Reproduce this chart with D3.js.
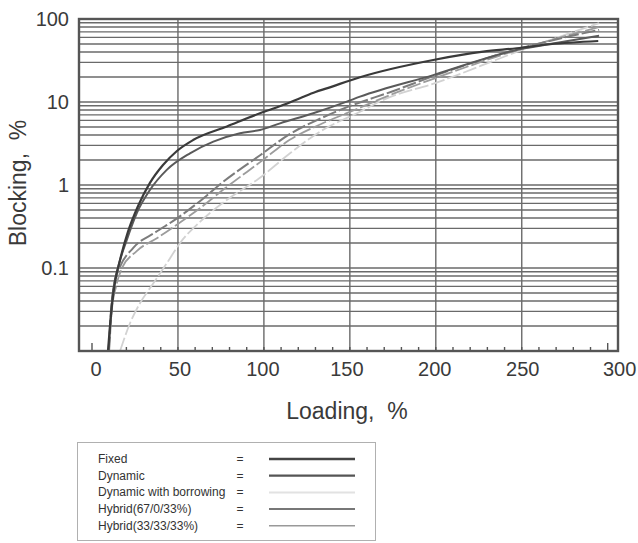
<!DOCTYPE html>
<html>
<head>
<meta charset="utf-8">
<script src="https://cdn.jsdelivr.net/npm/d3@7"></script>
<style>
  html, body { margin: 0; padding: 0; background: #fff; }
  svg { display: block; font-family: "Liberation Sans", Arial, sans-serif; }
</style>
</head>
<body>
<svg id="chart" width="638" height="543"></svg>
<script>
// ---- data (Loading %, Blocking %) ----
const seriesNames = ["Fixed", "Dynamic", "Dynamic with borrowing", "Hybrid(67/0/33%)", "Hybrid(33/33/33%)"];

const fixedX = [9.3, 10.5, 11.6, 13.4, 16.3, 20.9, 26.8, 33.7, 41.3, 49.4, 58.8, 78.5, 97.7, 110, 121, 130, 136.5, 155.9, 198.5, 227.6, 247, 266.4, 294.5];
const fixedY = [0.01, 0.0206, 0.0358, 0.0678, 0.125, 0.272, 0.558, 1.06, 1.74, 2.57, 3.48, 5.07, 7.31, 9.0, 11.1, 13.2, 14.6, 19.9, 32.1, 40.4, 44.4, 49.6, 54.3];

const dynamicX = [9.6, 10.6, 12.4, 15.3, 20.2, 26, 33.7, 43.5, 57, 70.6, 86.1, 97.7, 109.4, 128.7, 148.2, 155.9, 198.5, 247, 266.4, 295];
const dynamicY = [0.01, 0.02, 0.054, 0.104, 0.217, 0.456, 0.871, 1.52, 2.41, 3.33, 4.2, 4.6, 5.53, 7.31, 10.1, 11.6, 21.1, 42.4, 50, 63];

const borrowX = [16.3, 22.1, 27.9, 35.7, 43.5, 51.2, 62.8, 78.4, 97.7, 115.2, 132.6, 155.9, 169.4, 200, 247, 295];
const borrowY = [0.01, 0.0216, 0.0376, 0.0655, 0.114, 0.2, 0.36, 0.66, 1.22, 2.41, 4.39, 7.64, 10.6, 17, 40, 89];

const hyb67X = [9.8, 11, 13, 16, 24, 37, 49, 62, 76, 98, 115, 132, 148, 175, 200, 247, 295];
const hyb67Y = [0.01, 0.03, 0.065, 0.1, 0.175, 0.27, 0.39, 0.62, 1.08, 2.3, 4.1, 6.2, 8.6, 13.5, 21, 43, 74];

const hyb33X = [10, 11.5, 14, 17, 26, 38, 50, 63, 77, 98, 115, 133, 150, 175, 200, 247, 295];
const hyb33Y = [0.01, 0.03, 0.06, 0.095, 0.16, 0.23, 0.34, 0.53, 0.9, 1.9, 3.5, 5.4, 7.6, 12.5, 19.5, 42, 80];

const xTicks = [0, 50, 100, 150, 200, 250, 300];
const xMinorTicks = d3.range(0, 301, 10);
const yTicks = [0.1, 1, 10, 100];
const yTickLabels = ["0.1", "1", "10", "100"];

// ---- styles ----
const lineColors = ["#3a3a3a", "#5a5a5a", "#d2d2d2", "#7c7c7c", "#9c9c9c"];
const lineWidths = [2.2, 2, 1.8, 2, 1.8];
const lineDash = [null, null, "14,3", "14,3", "14,3"];
const legendColors = ["#444", "#555", "#e2e2e2", "#777", "#999"];
const legendWidths = [2.6, 2.2, 2, 2, 1.6];
const xLabelNudge = [4, 2, -1, -3, -1, 1, 12];

const svg = d3.select("#chart");

const plot = { left: 79, right: 618, top: 19, bottom: 351 };
const x = d3.scaleLinear().domain([0, 300]).range([92, 607.7]);
const y = d3.scaleLog().domain([0.01, 100]).range([plot.bottom, plot.top]);

// horizontal grid lines (log)
const gridVals = [];
[0.01, 0.1, 1, 10].forEach(d => { for (let k = 1; k <= 9; k++) gridVals.push(d * k); });
gridVals.push(100);
svg.append("g").selectAll("line").data(gridVals).join("line")
  .attr("x1", plot.left).attr("x2", plot.right)
  .attr("y1", d => y(d)).attr("y2", d => y(d))
  .attr("stroke", "#6a6a6a").attr("stroke-width", 1.4);

// vertical grid lines
svg.append("g").selectAll("line").data(xTicks.filter(d => d > 0 && d < 300)).join("line")
  .attr("x1", d => x(d)).attr("x2", d => x(d))
  .attr("y1", plot.top).attr("y2", plot.bottom)
  .attr("stroke", "#6a6a6a").attr("stroke-width", 1.4);

// minor ticks at bottom
svg.append("g").selectAll("line").data(xMinorTicks).join("line")
  .attr("x1", d => x(d)).attr("x2", d => x(d))
  .attr("y1", plot.bottom).attr("y2", d => (d === 0 || d === 300) ? plot.bottom - 8 : plot.bottom - 4)
  .attr("stroke", "#555").attr("stroke-width", 1.4);

// curves
const seriesData = [
  d3.zip(fixedX, fixedY),
  d3.zip(dynamicX, dynamicY),
  d3.zip(borrowX, borrowY),
  d3.zip(hyb67X, hyb67Y),
  d3.zip(hyb33X, hyb33Y)
];
const line = d3.line().x(d => x(d[0])).y(d => y(d[1])).curve(d3.curveMonotoneX);
const drawOrder = [2, 4, 3, 1, 0];
svg.append("g").selectAll("path").data(drawOrder).join("path")
  .attr("d", i => line(seriesData[i]))
  .attr("fill", "none")
  .attr("stroke", i => lineColors[i])
  .attr("stroke-width", i => lineWidths[i])
  .attr("stroke-dasharray", i => lineDash[i]);

// frame
svg.append("rect")
  .attr("x", plot.left).attr("y", plot.top)
  .attr("width", plot.right - plot.left).attr("height", plot.bottom - plot.top)
  .attr("fill", "none").attr("stroke", "#555").attr("stroke-width", 2.4);

// tick labels
svg.append("g").selectAll("text").data(xTicks).join("text")
  .attr("x", (d, i) => x(d) + xLabelNudge[i]).attr("y", 376)
  .attr("text-anchor", "middle").attr("font-size", 20).attr("fill", "#3a3a3a")
  .text(d => d);
svg.append("g").selectAll("text").data(yTicks).join("text")
  .attr("x", 69).attr("y", d => y(d) + 7)
  .attr("text-anchor", "end").attr("font-size", 20).attr("fill", "#3a3a3a")
  .text((d, i) => yTickLabels[i]);

// axis titles
svg.append("text").attr("x", 347).attr("y", 419)
  .attr("text-anchor", "middle").attr("font-size", 23).attr("fill", "#3a3a3a")
  .style("white-space", "pre")
  .text("Loading,  %");
svg.append("text")
  .attr("transform", "translate(26,183) rotate(-90)")
  .attr("text-anchor", "middle").attr("font-size", 23).attr("fill", "#3a3a3a")
  .style("white-space", "pre")
  .text("Blocking,  %");

// legend
const lg = svg.append("g");
lg.append("rect").attr("x", 77.5).attr("y", 442.5).attr("width", 298).attr("height", 98)
  .attr("fill", "#fff").attr("stroke", "#b0b0b0").attr("stroke-width", 1);
const rowY = i => 459 + i * 16.7;
lg.selectAll("text.name").data(seriesNames).join("text").attr("class", "name")
  .attr("x", 98).attr("y", (d, i) => rowY(i) + 4)
  .attr("font-size", 12).attr("fill", "#333").text(d => d);
lg.selectAll("text.eq").data(seriesNames).join("text").attr("class", "eq")
  .attr("x", 240).attr("y", (d, i) => rowY(i) + 4)
  .attr("text-anchor", "middle").attr("font-size", 12).attr("fill", "#333").text("=");
lg.selectAll("line").data(seriesNames).join("line")
  .attr("x1", 269).attr("x2", 355)
  .attr("y1", (d, i) => rowY(i)).attr("y2", (d, i) => rowY(i))
  .attr("stroke", (d, i) => legendColors[i]).attr("stroke-width", (d, i) => legendWidths[i]);
</script>
</body>
</html>
